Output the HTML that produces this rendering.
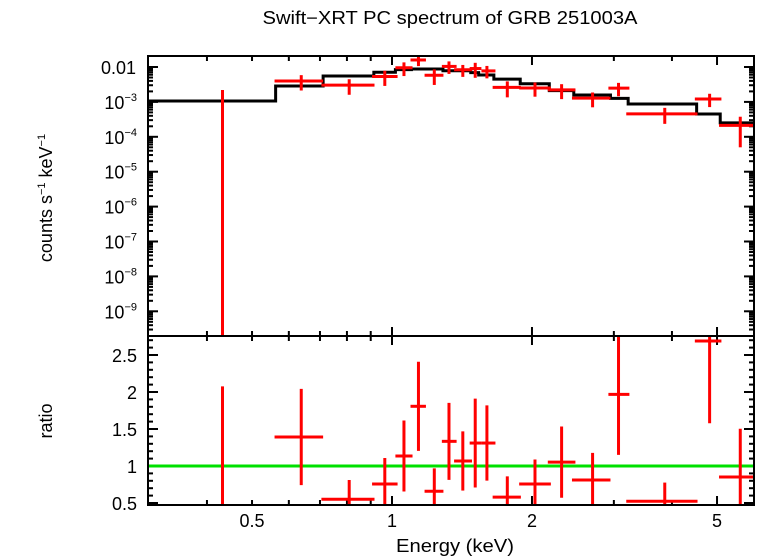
<!DOCTYPE html>
<html><head><meta charset="utf-8"><style>
body{margin:0;background:#fff;}
svg{display:block;font-family:"Liberation Sans",sans-serif;}
</style></head><body>
<svg id="c" width="758" height="556" viewBox="0 0 758 556" xmlns="http://www.w3.org/2000/svg">
<text x="450" y="24" font-size="18" text-anchor="middle" textLength="375" lengthAdjust="spacingAndGlyphs">Swift−XRT PC spectrum of GRB 251003A</text>
<text transform="translate(52,198) rotate(-90)" font-size="18" text-anchor="middle">counts s<tspan font-size="11" dy="-7">−1</tspan><tspan dy="7"> keV</tspan><tspan font-size="11" dy="-7">−1</tspan></text>
<text transform="translate(52,421) rotate(-90)" font-size="18" text-anchor="middle">ratio</text>
<text x="455" y="552" font-size="18" text-anchor="middle" textLength="118" lengthAdjust="spacingAndGlyphs">Energy (keV)</text>
<g id="g"></g>
</svg>
<script>
// model step bins
const modelEdges=[0.3,0.562,0.711,0.914,1.017,1.101,1.287,1.477,1.536,1.656,1.887,2.179,2.46,2.95,3.22,4.52,5.08,6.0];
const modelVals=[1.06e-3,2.86e-3,5.5e-3,7.05e-3,8.4e-3,8.8e-3,7.8e-3,6.9e-3,5.9e-3,4.5e-3,3.3e-3,2.1e-3,1.58e-3,1.26e-3,8.7e-4,4.5e-4,2.5e-4];
// data points
const eCen=[0.432,0.638,0.809,0.965,1.061,1.14,1.233,1.326,1.42,1.51,1.6,1.77,2.03,2.316,2.7,3.07,3.86,4.82,5.61];
const eLo=[0.428,0.559,0.705,0.906,1.017,1.096,1.175,1.28,1.36,1.469,1.557,1.646,1.877,2.163,2.438,2.92,3.19,4.48,5.05];
const eHi=[0.436,0.711,0.917,1.028,1.107,1.183,1.29,1.377,1.486,1.557,1.669,1.893,2.196,2.48,2.95,3.24,4.54,5.11,6.0];
const rate=[0,3.98e-3,3.03e-3,5.34e-3,9.53e-3,1.59e-2,5.79e-3,1.04e-2,8.33e-3,9.04e-3,7.73e-3,2.61e-3,2.5e-3,2.21e-3,1.28e-3,2.48e-3,4.55e-4,1.21e-3,2.13e-4];
const rateErr=[2.2e-3,1.86e-3,1.43e-3,2.47e-3,4.03e-3,5.3e-3,2.73e-3,4.06e-3,3.12e-3,4.14e-3,3.0e-3,1.26e-3,1.09e-3,1.01e-3,5.8e-4,1.03e-3,2.2e-4,5.0e-4,1.63e-4];
const yTopTicks=[-2,-3,-4,-5,-6,-7,-8,-9];
const xLabels=[0.5,1,2,5];
const ratioLabels=[0.5,1,1.5,2,2.5];

const L=148,R=754,T1=56,B1=336,T2=336,B2=505;
const X=e=>392+465*Math.log10(e);
const Y1=v=>67-34.9*(Math.log10(v)+2);
const Y2=r=>466-74*(r-1);
const g=document.getElementById('g');
const NS='http://www.w3.org/2000/svg';
function mk(tag,at,name){const el=document.createElementNS(NS,tag);for(const k in at)el.setAttribute(k,at[k]);


g.appendChild(el);return el;}
function ln(x1,y1,x2,y2,c,w,name){return mk('line',{x1,y1,x2,y2,stroke:c,'stroke-width':w},name);}
function clip(y,a,b){return Math.max(a,Math.min(b,y));}
function modelAt(e){for(let i=0;i<modelVals.length;i++)if(e<modelEdges[i+1])return modelVals[i];return modelVals[modelVals.length-1];}

// x ticks
const xt=[0.4,0.5,0.6,0.7,0.8,0.9,1,2,3,4,5,6];
xt.forEach(e=>{const x=X(e);if(x<=L+1||x>=R-1)return;const len=(e==1||e==2||e==5)?9:5;
[[T1,1],[B1,-1],[T2,1],[B2,-1]].forEach(([y,d])=>ln(x,y,x,y+d*len,'#000',2,'x-tick'));});
xLabels.forEach(e=>{const t=mk('text',{x:X(e),y:527,'font-size':18,'text-anchor':'middle'},'x-tick-label');t.textContent=e;});

// top y ticks
for(let d=-10;d<=-1;d++){for(let m=1;m<10;m++){const v=m*Math.pow(10,d);const y=Y1(v);if(y<T1+1||y>B1-1)continue;const len=m==1?10:5;
ln(L,y,L+len,y,'#000',2,'y-tick-top');ln(R,y,R-len,y,'#000',2,'y-tick-top');}}
yTopTicks.forEach(d=>{const y=Y1(Math.pow(10,d));let t;
if(d==-2){t=mk('text',{x:136,y:y+7,'font-size':18,'text-anchor':'end'},'y-tick-label-top');t.textContent='0.01';}
else{t=mk('text',{x:137,y:y+7,'font-size':18,'text-anchor':'end'},'y-tick-label-top');
t.innerHTML='10<tspan font-size="11" dy="-8">−'+(-d)+'</tspan>';}});
// bottom y ticks
for(let r=0.5;r<=2.76;r+=0.1){const y=Y2(r);if(y<T2+1||y>B2-1)continue;const maj=Math.abs(r*2-Math.round(r*2))<0.01;const len=maj?10:5;
ln(L,y,L+len,y,'#000',2,'y-tick-bottom');ln(R,y,R-len,y,'#000',2,'y-tick-bottom');}
ratioLabels.forEach(r=>{const t=mk('text',{x:137,y:Y2(r)+7,'font-size':18,'text-anchor':'end'},'y-tick-label-bottom');t.textContent=r;});

// model step
let d='';modelVals.forEach((v,i)=>{const x1=X(modelEdges[i]),x2=X(modelEdges[i+1]),y=Y1(v);d+=(i?'L':'M')+x1+','+y+'L'+x2+','+y;});
mk('path',{d,fill:'none',stroke:'#000','stroke-width':3},'model-line');

// green unity line
ln(L,Y2(1),R,Y2(1),'#00e000',3,'unity-line');

// data
eCen.forEach((e,i)=>{const x=X(e),x1=X(eLo[i]),x2=X(Math.min(eHi[i],6));
const v=rate[i],er=rateErr[i];
const yt=clip(Y1(v+er),T1,B1),yb=(v-er)>0?clip(Y1(v-er),T1,B1):B1;
ln(x,yt,x,yb,'#f00',3,'data-errbar-top');
if(v>0){const yc=Y1(v);if(yc>T1&&yc<B1)ln(x1,yc,x2,yc,'#f00',3,'data-point-top');}
const m=modelAt(e),r=v/m,re=er/m;
const rt=clip(Y2(r+re),T2,B2),rb=clip(Y2(r-re),T2,B2);
ln(x,rt,x,rb,'#f00',3,'ratio-errbar');
const yc=Y2(r);if(yc>T2&&yc<B2)ln(x1,yc,x2,yc,'#f00',3,'ratio-point');});

// frames
mk('rect',{x:L,y:T1,width:R-L,height:B1-T1,fill:'none',stroke:'#000','stroke-width':2},'top-panel-frame');
mk('rect',{x:L,y:T2,width:R-L,height:B2-T2,fill:'none',stroke:'#000','stroke-width':2},'bottom-panel-frame');
</script>
</body></html>
